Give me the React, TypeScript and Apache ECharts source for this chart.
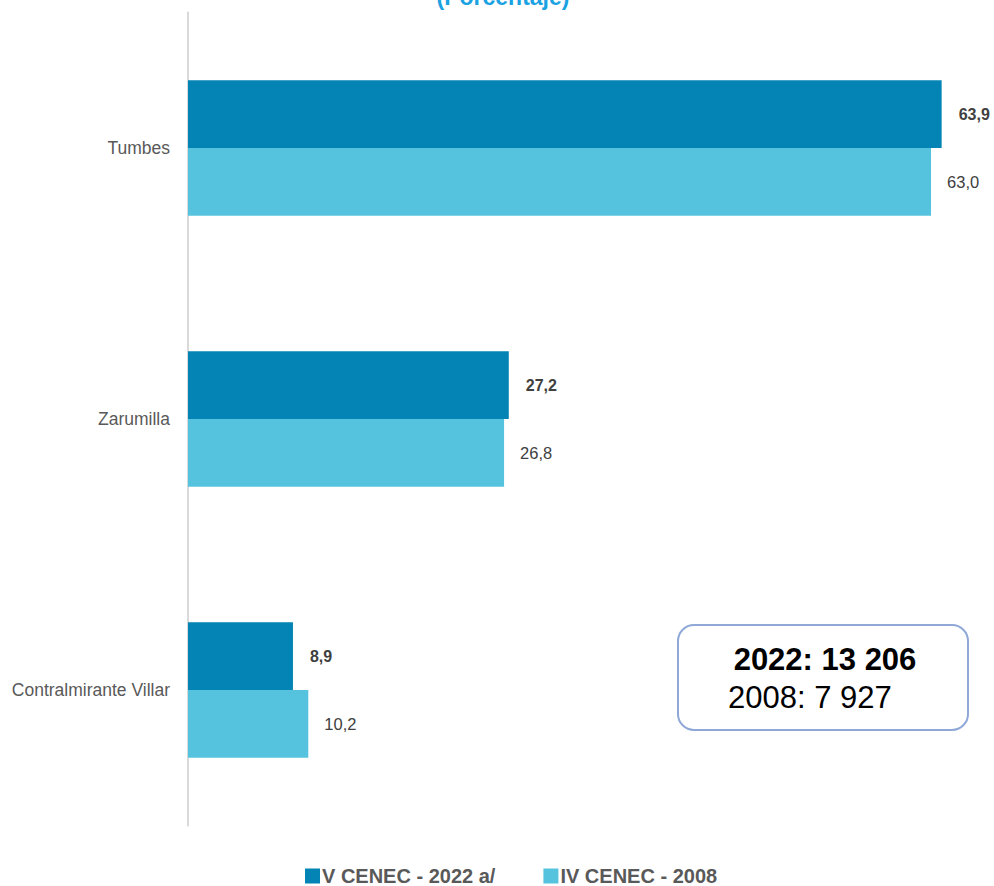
import React, { useEffect, useRef } from "react";
import * as echarts from "echarts";

const categories = ["Tumbes", "Zarumilla", "Contralmirante Villar"];
const values2022 = [63.9, 27.2, 8.9];
const values2008 = [63.0, 26.8, 10.2];
const seriesNames = ["V CENEC - 2022 a/", "IV CENEC - 2008"];
const totalsLines = ["2022: 13 206", "2008: 7 927"];

const fmt = (v: number) => v.toFixed(1).replace(".", ",");

export default function App() {
  const ref = useRef<HTMLDivElement>(null);
  useEffect(() => {
    if (!ref.current) return;
    const chart = echarts.init(ref.current, null, { renderer: "svg" });
    const font = "'Liberation Sans', Arial, sans-serif";
    chart.setOption({
      animation: false,
      backgroundColor: "#ffffff",
      grid: { left: 188, top: 12.5, width: 802, height: 813, containLabel: false },
      xAxis: {
        type: "value",
        min: 0,
        max: 68,
        show: false,
      },
      yAxis: {
        type: "category",
        data: categories,
        inverse: true,
        axisLine: { show: true, lineStyle: { color: "#d9d9d9", width: 2 } },
        axisTick: { show: false },
        axisLabel: {
          color: "#595959",
          fontSize: 17.5,
          margin: 18,
          fontFamily: font,
        },
      },
      legend: {
        bottom: -5,
        left: 300,
        itemWidth: 15,
        itemHeight: 15,
        itemGap: 48,
        icon: "rect",
        textStyle: { color: "#595959", fontSize: 20, fontWeight: "bold", fontFamily: font, padding: [0, 0, 0, -3] },
        data: seriesNames,
      },
      series: [
        {
          name: seriesNames[0],
          type: "bar",
          data: values2022,
          barGap: "0%",
          barCategoryGap: "50%",
          itemStyle: { color: "#0384b4" },
          label: {
            show: true,
            position: "right",
            distance: 17,
            formatter: (p: any) => fmt(p.value),
            color: "#404040",
            fontSize: 16,
            fontWeight: "bold",
            fontFamily: font,
          },
        },
        {
          name: seriesNames[1],
          type: "bar",
          data: values2008,
          barGap: "0%",
          barCategoryGap: "50%",
          itemStyle: { color: "#56c3de" },
          label: {
            show: true,
            position: "right",
            distance: 16,
            formatter: (p: any) => fmt(p.value),
            color: "#404040",
            fontSize: 16.5,
            fontFamily: font,
          },
        },
      ],
      graphic: [
        {
          type: "text",
          x: 503,
          y: -15,
          style: {
            text: "(Porcentaje)",
            fill: "#1aa2e2",
            fontSize: 23,
            fontWeight: "bold",
            align: "center",
            fontFamily: font,
          },
        },
        {
          type: "rect",
          shape: { x: 678, y: 625, width: 290, height: 105, r: 16 },
          style: { fill: "#ffffff", stroke: "#8fa8d8", lineWidth: 2 },
        },
        {
          type: "text",
          x: 825,
          y: 659,
          style: {
            text: totalsLines[0],
            fill: "#000000",
            fontSize: 31,
            fontWeight: "bold",
            align: "center",
            verticalAlign: "middle",
            fontFamily: font,
          },
        },
        {
          type: "text",
          x: 728,
          y: 697,
          style: {
            text: totalsLines[1],
            fill: "#000000",
            fontSize: 31,
            align: "left",
            verticalAlign: "middle",
            fontFamily: font,
          },
        },
      ],
    });
    return () => chart.dispose();
  }, []);
  return (
    <div
      ref={ref}
      style={{ position: "fixed", left: 0, top: 0, width: 994, height: 886 }}
    />
  );
}
